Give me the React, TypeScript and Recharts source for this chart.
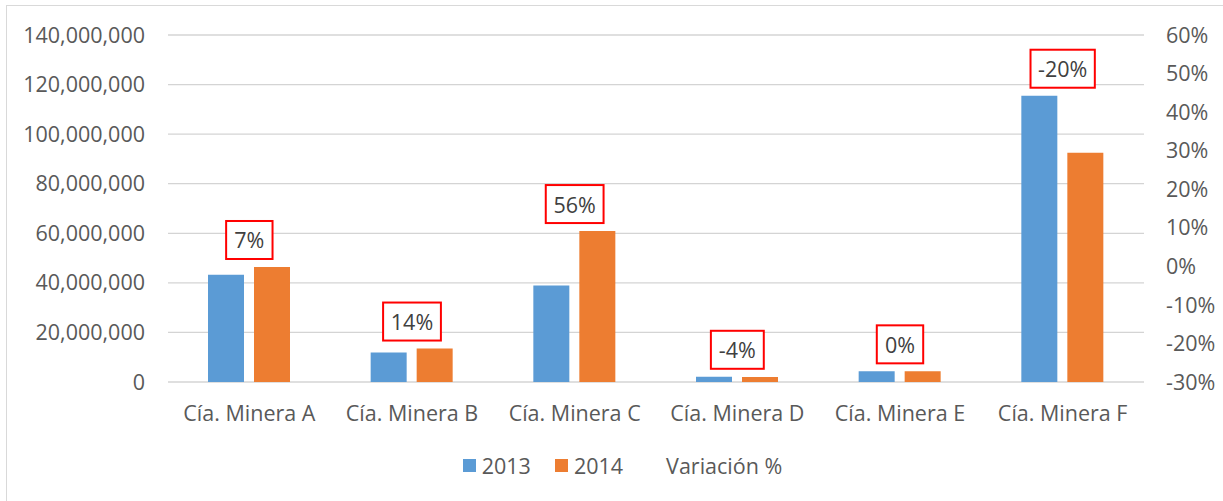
import {
  ComposedChart,
  Bar,
  Line,
  XAxis,
  YAxis,
  CartesianGrid,
  Legend,
  LabelList,
} from "recharts";

const companias = [
  "Cía. Minera A",
  "Cía. Minera B",
  "Cía. Minera C",
  "Cía. Minera D",
  "Cía. Minera E",
  "Cía. Minera F",
];
const ventas2013 = [43300000, 11900000, 38900000, 2100000, 4300000, 115500000];
const ventas2014 = [46400000, 13500000, 60900000, 2000000, 4300000, 92500000];
const variacion = [0.07, 0.14, 0.56, -0.04, 0.0, -0.2];

const ticksIzq = [0, 20000000, 40000000, 60000000, 80000000, 100000000, 120000000, 140000000];
const ticksDer = [-0.3, -0.2, -0.1, 0, 0.1, 0.2, 0.3, 0.4, 0.5, 0.6];

const data = companias.map((c, i) => ({
  name: c,
  v2013: ventas2013[i],
  v2014: ventas2014[i],
  variacion: variacion[i],
  tope: Math.max(ventas2013[i], ventas2014[i]),
}));

const FONT = "'Open Sans', sans-serif";
const FS = 21.5;
const AXIS_TEXT = "#595959";

const pct = (v: number) => `${Math.round(v * 100)}%`;

const textWidth = (s: string) =>
  s.split("").reduce((w, ch) => w + (ch === "%" ? 17 : ch === "-" ? 6.5 : 11.4), 0);

const CajaVariacion = (props: any) => {
  const { x, y, index } = props;
  const txt = pct(variacion[index]);
  const w = textWidth(txt) + 18;
  const h = 38;
  const bottom = y - 8;
  return (
    <g>
      <rect
        x={x - w / 2}
        y={bottom - h}
        width={w}
        height={h}
        fill="#fff"
        stroke="#ff0000"
        strokeWidth={2}
      />
      <text
        x={x}
        y={bottom - h / 2}
        textAnchor="middle"
        dominantBaseline="central"
        fill="#404040"
        fontSize={FS}
        fontFamily={FONT}
      >
        {txt}
      </text>
    </g>
  );
};

const Leyenda = (props: any) => {
  const items = (props.payload || []).filter((p: any) => p.type !== "none");
  return (
    <div
      style={{
        display: "flex",
        justifyContent: "center",
        alignItems: "center",
        height: 30,
        paddingLeft: 24,
        fontFamily: FONT,
        fontSize: FS,
        color: AXIS_TEXT,
      }}
    >
      {items.map((p: any, i: number) => (
        <div
          key={p.value}
          style={{ display: "flex", alignItems: "center", marginRight: i < items.length - 1 ? 24 : 0 }}
        >
          <span
            style={{
              display: "inline-block",
              width: 13,
              height: 13,
              marginRight: 6,
              background: p.type === "line" ? "transparent" : p.color,
            }}
          />
          <span>{p.value}</span>
        </div>
      ))}
    </div>
  );
};

export default function App() {
  return (
    <div
      style={{
        position: "fixed",
        left: 0,
        top: 0,
        width: 1223,
        height: 501,
        overflow: "hidden",
        background: "#fff",
        fontFamily: FONT,
      }}
    >
      <div
        style={{
          position: "absolute",
          left: 6,
          top: 5,
          width: 1260,
          height: 520,
          border: "1px solid #d9d9d9",
        }}
      >
        <ComposedChart
          width={1232}
          height={495}
          data={data}
          margin={{ top: 29, right: 25, left: 0, bottom: 21 }}
          barSize={36}
          barGap={10}
        >
          <CartesianGrid yAxisId="left" vertical={false} stroke="#d4d4d4" strokeWidth={1.3} />
          <XAxis
            dataKey="name"
            axisLine={false}
            tickLine={false}
            tickSize={0}
            tickMargin={24}
            height={68}
            interval={0}
            tick={{ fill: AXIS_TEXT, fontSize: FS, fontFamily: FONT }}
          />
          <YAxis
            yAxisId="left"
            domain={[0, 140000000]}
            ticks={ticksIzq}
            width={161}
            axisLine={false}
            tickLine={false}
            tickSize={0}
            tickMargin={23}
            tickFormatter={(v: number) => v.toLocaleString("en-US")}
            tick={{ fill: AXIS_TEXT, fontSize: FS, fontFamily: FONT }}
          />
          <YAxis
            yAxisId="right"
            orientation="right"
            domain={[-0.3, 0.6]}
            ticks={ticksDer}
            allowDataOverflow
            width={70}
            axisLine={false}
            tickLine={false}
            tickSize={0}
            tickMargin={22}
            tickFormatter={pct}
            tick={{ fill: AXIS_TEXT, fontSize: FS, fontFamily: FONT, textAnchor: "start" }}
          />
          <Legend verticalAlign="bottom" height={30} content={<Leyenda />} />
          <Bar yAxisId="left" dataKey="v2013" name="2013" fill="#5B9BD5" isAnimationActive={false} />
          <Bar yAxisId="left" dataKey="v2014" name="2014" fill="#ED7D31" isAnimationActive={false} />
          <Line
            yAxisId="right"
            dataKey="variacion"
            name="Variación %"
            stroke="none"
            dot={false}
            activeDot={false}
            legendType="line"
            isAnimationActive={false}
          />
          <Line
            yAxisId="left"
            dataKey="tope"
            name="etiquetas"
            stroke="none"
            dot={false}
            activeDot={false}
            legendType="none"
            isAnimationActive={false}
          >
            <LabelList dataKey="variacion" content={<CajaVariacion />} />
          </Line>
        </ComposedChart>
      </div>
    </div>
  );
}
